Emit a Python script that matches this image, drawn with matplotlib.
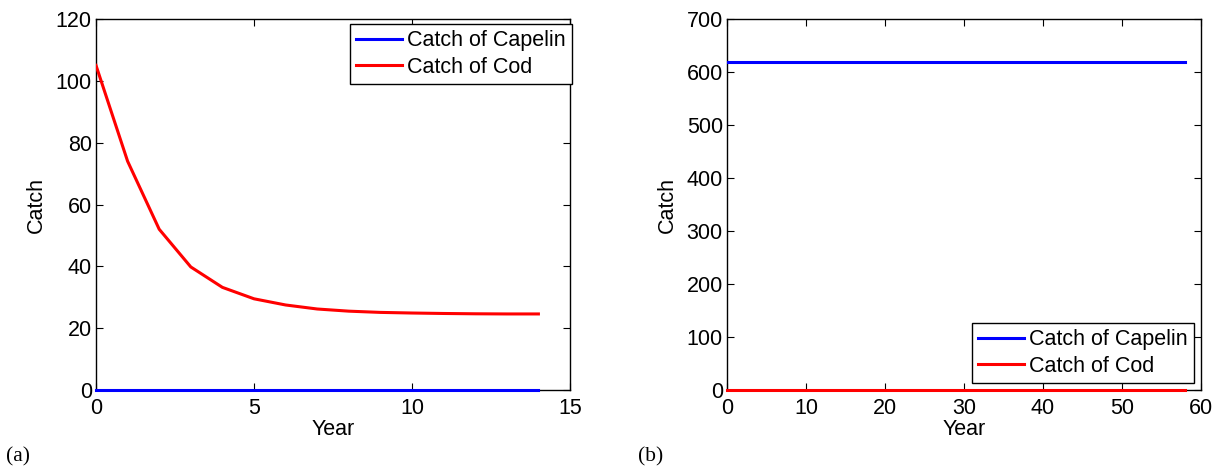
import numpy as np
import matplotlib
matplotlib.use("Agg")
import matplotlib.pyplot as plt

# panel (a): short horizon
years_a = list(range(15))
cod_a = [105, 74, 52, 39.8, 33.2, 29.5, 27.5, 26.2, 25.5, 25.1, 24.9, 24.75, 24.65, 24.6, 24.6]
capelin_a = [0] * 15

# panel (b): long horizon
years_b = list(range(59))
capelin_b = [618] * 59
cod_b = [0] * 59

plt.rcParams["font.family"] = ["Liberation Sans", "DejaVu Sans"]
FS = 15.5

fig = plt.figure(figsize=(12.15, 4.69), dpi=100)
W, H = 1215, 469
ax1 = fig.add_axes([96 / W, 1 - 390 / H, (570 - 96) / W, (390 - 19) / H])
ax2 = fig.add_axes([727 / W, 1 - 390 / H, (1201 - 727) / W, (390 - 19) / H])


def style(ax):
    ax.tick_params(direction="in", top=True, right=True, length=5, labelsize=FS)
    ax.tick_params(axis="x", pad=6)
    ax.tick_params(axis="y", pad=3)
    for s in ax.spines.values():
        s.set_linewidth(1.0)
    ax.set_xlabel("Year", fontsize=FS, labelpad=0)
    ax.set_ylabel("Catch", fontsize=FS, labelpad=6)


leg_kw = dict(fancybox=False, edgecolor="black", framealpha=1, fontsize=FS,
              handlelength=2.1, borderpad=0.3, labelspacing=0.25, handletextpad=0.25,
              borderaxespad=0)

ax1.plot(years_a, capelin_a, color="blue", lw=2.2, label="Catch of Capelin",
         clip_on=False, zorder=3)
ax1.plot(years_a, cod_a, color="red", lw=2.2, label="Catch of Cod", zorder=3)
ax1.set_xlim(0, 15); ax1.set_ylim(0, 120)
ax1.set_xticks([0, 5, 10, 15]); ax1.set_yticks(range(0, 121, 20))
style(ax1)
ax1.legend(loc="upper right", bbox_to_anchor=(572 / W, 1 - 24 / H),
           bbox_transform=fig.transFigure, **leg_kw)

ax2.plot(years_b, capelin_b, color="blue", lw=2.2, label="Catch of Capelin", zorder=3)
ax2.plot(years_b, cod_b, color="red", lw=2.2, label="Catch of Cod",
         clip_on=False, zorder=3)
ax2.set_xlim(0, 60); ax2.set_ylim(0, 700)
ax2.set_xticks(range(0, 61, 10)); ax2.set_yticks(range(0, 701, 100))
style(ax2)
ax2.legend(loc="lower right", bbox_to_anchor=(1194 / W, 1 - 383 / H),
           bbox_transform=fig.transFigure, **leg_kw)

serif = ["Liberation Serif", "DejaVu Serif"]
fig.text(6 / W, 1 - 457 / H, "(a)", family=serif, fontsize=FS, va="center")
fig.text(638 / W, 1 - 457 / H, "(b)", family=serif, fontsize=FS, va="center")

fig.savefig("out.png", dpi=100)
